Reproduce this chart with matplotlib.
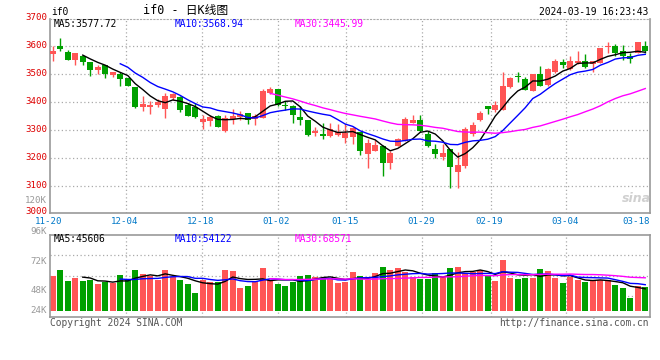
import matplotlib
matplotlib.use("Agg")
import matplotlib.pyplot as plt
import numpy as np

# ---------------- data ----------------
tick_labels = ["11-20", "12-04", "12-18", "01-02", "01-15", "01-29", "02-19", "03-04", "03-18"]
tick_index = [0, 10, 20, 30, 39, 49, 58, 68, 78]

opens = [3571, 3601, 3579, 3548, 3564, 3541, 3512, 3532, 3494, 3500,
         3486, 3454, 3380, 3380, 3388, 3374, 3412, 3417, 3388, 3380,
         3327, 3330, 3348, 3295, 3340, 3346, 3361, 3339, 3341, 3432,
         3446, 3387, 3384, 3345, 3335, 3287, 3285, 3279, 3281, 3271,
         3275, 3293, 3213, 3225, 3241, 3180, 3243, 3261, 3325, 3335,
         3285, 3231, 3204, 3230, 3148, 3170, 3283, 3334, 3386, 3372,
         3372, 3453, 3491, 3481, 3440, 3500, 3459, 3505, 3541, 3517,
         3538, 3547, 3535, 3538, 3595, 3598, 3582, 3562, 3576, 3601]
highs = [3598, 3627, 3586, 3575, 3568, 3541, 3530, 3532, 3508, 3506,
         3486, 3454, 3422, 3404, 3410, 3431, 3431, 3422, 3396, 3396,
         3353, 3353, 3354, 3353, 3374, 3368, 3361, 3357, 3447, 3453,
         3446, 3401, 3390, 3386, 3335, 3309, 3324, 3323, 3321, 3321,
         3309, 3293, 3267, 3264, 3246, 3225, 3271, 3345, 3351, 3351,
         3297, 3249, 3249, 3230, 3220, 3310, 3327, 3366, 3386, 3402,
         3508, 3488, 3506, 3487, 3500, 3529, 3520, 3552, 3552, 3564,
         3580, 3571, 3547, 3594, 3615, 3605, 3604, 3574, 3612, 3618]
lows = [3544, 3580, 3548, 3533, 3533, 3491, 3500, 3484, 3487, 3455,
        3458, 3377, 3367, 3356, 3381, 3341, 3407, 3365, 3348, 3342,
        3301, 3315, 3308, 3291, 3322, 3334, 3322, 3317, 3341, 3426,
        3386, 3372, 3324, 3318, 3277, 3277, 3267, 3275, 3279, 3253,
        3249, 3211, 3163, 3225, 3136, 3160, 3241, 3258, 3324, 3293,
        3237, 3198, 3190, 3092, 3090, 3164, 3279, 3330, 3356, 3362,
        3372, 3449, 3470, 3443, 3437, 3455, 3455, 3502, 3519, 3512,
        3535, 3519, 3508, 3538, 3576, 3564, 3550, 3538, 3574, 3574]
closes = [3582, 3588, 3548, 3575, 3541, 3514, 3526, 3498, 3505, 3482,
          3458, 3380, 3393, 3390, 3398, 3422, 3429, 3369, 3350, 3344,
          3339, 3344, 3308, 3343, 3350, 3357, 3334, 3348, 3440, 3446,
          3390, 3384, 3354, 3335, 3281, 3297, 3279, 3303, 3291, 3287,
          3307, 3225, 3253, 3246, 3181, 3218, 3267, 3339, 3333, 3297,
          3240, 3213, 3217, 3168, 3172, 3303, 3318, 3358, 3374, 3390,
          3457, 3485, 3487, 3443, 3500, 3455, 3518, 3544, 3531, 3547,
          3546, 3526, 3544, 3594, 3601, 3576, 3562, 3552, 3612, 3583]
volumes = [79100, 93600, 65500, 73200, 65500, 68100, 57900, 62100, 59600, 80800,
           68100, 93600, 84200, 79100, 68100, 93600, 74900, 68100, 57900, 35800,
           68100, 63800, 62100, 93600, 91000, 47700, 52800, 63800, 99500, 68100,
           57900, 52800, 63800, 79100, 80800, 75700, 72300, 72300, 61300, 63800,
           88500, 78300, 68100, 85900, 101200, 93600, 98700, 88500, 75700, 70600,
           70600, 85900, 75700, 98700, 101200, 85900, 88500, 93600, 78300, 65500,
           119100, 73200, 70600, 73200, 73200, 96100, 91000, 73200, 60400, 75700,
           68100, 63000, 66400, 68100, 68100, 55300, 47700, 22200, 52800, 49400]

ma_price_text = ["MA5:3577.72", "MA10:3568.94", "MA30:3445.99"]
ma_vol_text = ["MA5:45606", "MA10:54122", "MA30:68571"]
price_ticks = [3700, 3600, 3500, 3400, 3300, 3200, 3100, 3000]
vol_tick_text = ["120K", "96K", "72K", "48K", "24K"]

# ---------------- style ----------------
W, H = 660, 360
RED = "#ff5555"
GREEN = "#00a000"
GRID = "#aaaaaa"
FRAME = "#999999"
MONO = ["DejaVu Sans Mono"]
FS = 6.9
FSA = 6.6

o = np.array(opens, float); h = np.array(highs, float)
l = np.array(lows, float); c = np.array(closes, float)
v = np.array(volumes, float)
n = len(c)
x = np.arange(n)
up = c >= o
cols = np.where(up, RED, GREEN)

def ma(arr, k):
    out = np.full(len(arr), np.nan)
    cs = np.cumsum(arr)
    out[k - 1:] = (cs[k - 1:] - np.concatenate([[0], cs[:-k]])) / k
    return out

fig = plt.figure(figsize=(W / 100, H / 100), dpi=100)
fig.patch.set_facecolor("white")

def rect(left, top, right, bottom):
    return [left / W, 1 - bottom / H, (right - left) / W, (bottom - top) / H]

XL = (-0.3667, 79.6333)
grid_x = XL[0] + np.array(tick_index) * (XL[1] - XL[0]) / 79.0
PLO, PHI = 3002, 3696

# ---------- price panel ----------
axp = fig.add_axes(rect(50, 19, 650, 213))
axp.set_xlim(*XL)
axp.set_ylim(PLO, PHI)
for p in price_ticks:
    if PLO < p < PHI:
        axp.axhline(p, color=GRID, lw=0.9, ls=(0, (1, 2)), zorder=0)
for gx in grid_x[1:-1]:
    axp.axvline(gx, color=GRID, lw=0.9, ls=(0, (1, 2)), zorder=0)

axp.vlines(x, l, h, colors=cols, lw=1.0, zorder=2)
body_h = np.maximum(np.abs(c - o), 1.5)
axp.bar(x, body_h, bottom=np.minimum(o, c), width=0.82, color=cols, linewidth=0, zorder=3)

for k, colr in [(5, "black"), (10, "#0000ff"), (30, "#ff00ff")]:
    axp.plot(x, ma(c, k), color=colr, lw=1.0, zorder=4)

axp.set_xticks([]); axp.set_yticks([])
for s in ["left", "right", "bottom"]:
    axp.spines[s].set_color(FRAME); axp.spines[s].set_linewidth(1.2)
axp.spines["top"].set_color(GRID); axp.spines["top"].set_linestyle((0, (1, 2)))

for j, (t, colr) in enumerate(zip(ma_price_text, ["black", "#0000ff", "#ff00ff"])):
    fig.text((54 + 120.5 * j) / W, 1 - 24 / H, t, color=colr, fontsize=FS,
             family=MONO, va="center", ha="left")

# price tick labels (red)
for p in price_ticks:
    frac = (p - PLO) / (PHI - PLO)
    ypx = 213 - frac * (213 - 19)
    if p == price_ticks[-1]:
        ypx = 211.5
    fig.text(47 / W, 1 - ypx / H, str(p), color="#dd0000", fontsize=FSA, family=MONO,
             ha="right", va="center")

# x tick labels
for lab, gx in zip(tick_labels, grid_x):
    xpx = 50 + (gx - XL[0]) / (XL[1] - XL[0]) * 600 - 1.5
    ha = "center"
    if lab == tick_labels[-1]:
        xpx, ha = 650, "right"
    fig.text(xpx / W, 1 - 221 / H, lab, color="#0078c8", fontsize=FSA, family=MONO,
             ha=ha, va="center")

# sina watermark
fig.text(636 / W, 1 - 199 / H, "sina", color="#d0d0d0", fontsize=9, style="italic",
         weight="bold", ha="center", va="center", family=["DejaVu Sans"])

# header
fig.text(51 / W, 1 - 12 / H, "if0", fontsize=FS, family=MONO, va="center", ha="left")
fig.text(186 / W, 1 - 10.5 / H, "if0 - 日K线图", fontsize=8.5,
         family=["DejaVu Sans Mono", "Noto Sans CJK SC"], va="center", ha="center")
fig.text(648 / W, 1 - 12 / H, "2024-03-19 16:23:43", fontsize=FS, family=MONO,
         va="center", ha="right")

# ---------- volume panel ----------
VTOP, VBOT = 234.7, 317.0
axv = fig.add_axes(rect(50, VTOP, 650, VBOT))
axv.set_xlim(*XL)
vlim = ((306.7 - VBOT) * 2550, (306.7 - VTOP) * 2550)
axv.set_ylim(*vlim)
vfloor = (306.7 - 311.0) * 2550
for frac in [0.25, 0.5, 0.75]:
    axv.axhline(vlim[0] + frac * (vlim[1] - vlim[0]), color=GRID, lw=0.9, ls=(0, (1, 2)), zorder=0)
for gx in grid_x[1:-1]:
    axv.axvline(gx, color=GRID, lw=0.9, ls=(0, (1, 2)), zorder=0)
axv.bar(x, v - vfloor, bottom=vfloor, width=0.82, color=cols, linewidth=0, zorder=2)
for k, colr in [(5, "black"), (10, "#0000ff"), (30, "#ff00ff")]:
    axv.plot(x, ma(v, k), color=colr, lw=1.0, zorder=4)
axv.set_xticks([]); axv.set_yticks([])
for s in axv.spines.values():
    s.set_color(FRAME); s.set_linewidth(1.2)

for j, (t, colr) in enumerate(zip(ma_vol_text, ["black", "#0000ff", "#ff00ff"])):
    fig.text((54 + 120.5 * j) / W, 1 - 238.5 / H, t, color=colr, fontsize=FS,
             family=MONO, va="center", ha="left")

for t, ypx in zip(vol_tick_text, [200.7, 231.5, 261, 290.7, 310.7]):
    fig.text(47 / W, 1 - ypx / H, t, color="#999999", fontsize=FSA, family=MONO,
             ha="right", va="center")

# footer
fig.text(50 / W, 1 - 323.5 / H, "Copyright 2024 SINA.COM", color="#555555", fontsize=FS,
         family=MONO, va="center", ha="left")
fig.text(649 / W, 1 - 323.5 / H, "http://finance.sina.com.cn", color="#555555", fontsize=FS,
         family=MONO, va="center", ha="right")

fig.savefig("out.png", dpi=100, facecolor="white")
